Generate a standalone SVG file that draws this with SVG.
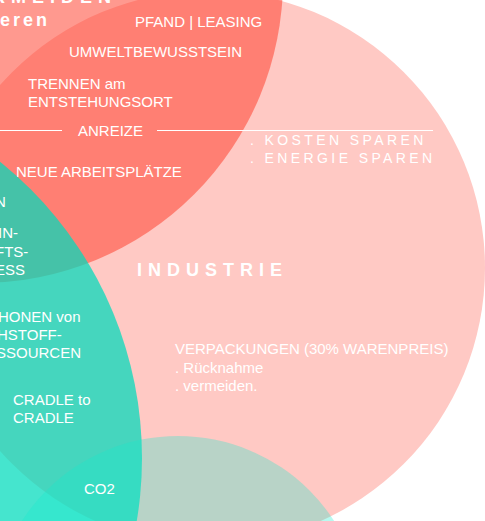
<svg xmlns="http://www.w3.org/2000/svg" width="485" height="521" viewBox="0 0 485 521">
<style>
text{font-family:"Liberation Sans",Arial,sans-serif;fill:#fff;font-size:15px}
.b{font-weight:bold}
.sp{font-size:14px;letter-spacing:3.4px}
.ln{stroke:#fff;stroke-width:1}
</style>
<rect width="485" height="521" fill="#fff"/>
<g id="industrie">
<circle cx="208" cy="268" r="277" fill="#FFC9C4"/>
</g>
<g id="anreize-circle">
<circle cx="-20" cy="-20" r="303" fill="rgb(255,60,40)" fill-opacity="0.52"/>
</g>
<g id="ressourcen-circle">
<circle cx="-238" cy="458" r="380" fill="rgb(0,220,188)" fill-opacity="0.73"/>
</g>
<g id="co2-circle">
<circle cx="178" cy="622" r="186" fill="rgb(20,235,205)" fill-opacity="0.3"/>
</g>
<g id="connectors">
<line class="ln" x1="0" y1="130.5" x2="62" y2="130.5"/>
<line class="ln" x1="157" y1="130.5" x2="433" y2="130.5"/>
</g>
<g id="labels">
<text class="b" x="-8" y="3" style="font-size:18px;letter-spacing:6px">RMEIDEN</text>
<text class="b" x="0" y="26" style="font-size:18px;letter-spacing:3px">eren</text>
<text x="135" y="27">PFAND | LEASING</text>
<text x="69" y="57">UMWELTBEWUSSTSEIN</text>
<text x="28" y="89">TRENNEN am</text>
<text x="28" y="107">ENTSTEHUNGSORT</text>
<text x="78" y="136">ANREIZE</text>
<text class="sp" x="250" y="145">. KOSTEN SPAREN</text>
<text class="sp" x="250" y="163">. ENERGIE SPAREN</text>
<text x="16" y="177">NEUE ARBEITSPLÄTZE</text>
<text x="-5" y="207">N</text>
<text x="-2" y="238">IN-</text>
<text x="-5" y="257">FTS-</text>
<text x="-5" y="275">ESS</text>
<text class="b" x="137" y="276" style="font-size:18px;letter-spacing:6px">INDUSTRIE</text>
<text x="-2" y="321.5">HONEN von</text>
<text x="-3" y="340">HSTOFF-</text>
<text x="-4" y="358">SSOURCEN</text>
<text x="175" y="354">VERPACKUNGEN (30% WARENPREIS)</text>
<text x="175" y="373">. Rücknahme</text>
<text x="175" y="391">. vermeiden.</text>
<text x="13" y="405">CRADLE to</text>
<text x="13" y="423">CRADLE</text>
<text x="84" y="494">CO2</text>
</g>
</svg>
